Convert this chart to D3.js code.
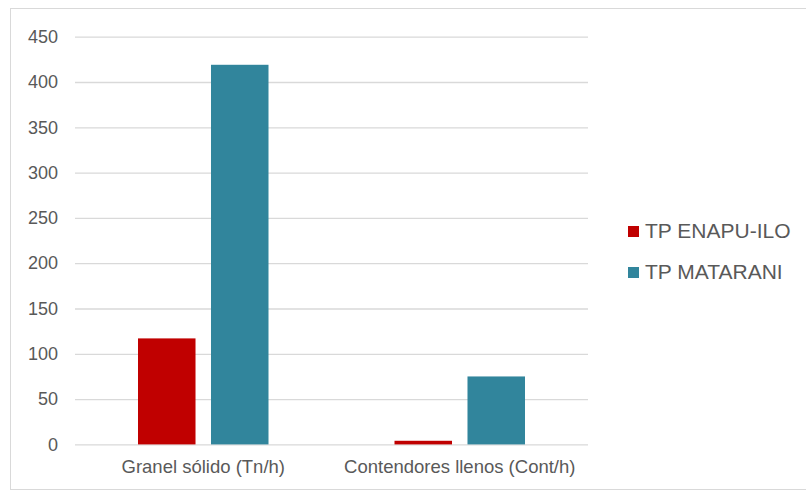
<!DOCTYPE html>
<html><head><meta charset="utf-8">
<script src="https://cdn.jsdelivr.net/npm/d3@7"></script>
<style>body{margin:0;background:#fff}svg{display:block}text{font-family:"Liberation Sans",Arial,sans-serif;fill:#595959}</style>
</head><body><svg id="c" width="806" height="491"></svg>
<script>
const categories = ["Granel sólido (Tn/h)", "Contendores llenos (Cont/h)"];
const seriesNames = ["TP ENAPU-ILO", "TP MATARANI"];
const enapuValues = [117, 4];
const mataraniValues = [419, 75];
const yTicks = [0, 50, 100, 150, 200, 250, 300, 350, 400, 450];
const colors = ["#C00000", "#31859C"];

(function () {
const svg = d3.select("#c");
svg.append("rect").attr("x", 10.5).attr("y", 8.5).attr("width", 810).attr("height", 481)
  .attr("fill", "none").attr("stroke", "#d9d9d9");

const pLeft = 75, pRight = 588, pTop = 36.7, pBottom = 444.4;
const y = d3.scaleLinear().domain([0, 450]).range([pBottom, pTop]);
const x0 = d3.scaleBand().domain(categories).range([pLeft, pRight]);
const bw = x0.bandwidth();
const groupW = 130.5;
const x1 = d3.scaleBand().domain(seriesNames).range([(bw - groupW) / 2, (bw + groupW) / 2]).paddingInner(0.212);

const yAxis = d3.axisLeft(y).tickValues(yTicks).tickSize(-(pRight - pLeft)).tickPadding(17);
const gy = svg.append("g").attr("transform", `translate(${pLeft},0)`).call(yAxis);
gy.select(".domain").remove();
gy.attr("font-family", null);
gy.selectAll(".tick line").attr("stroke", "#d9d9d9").attr("stroke-width", 1.3);
gy.selectAll(".tick text").style("font-size", "18px").attr("fill", "#595959");

const data = categories.map((c, i) => ({c, vals: [enapuValues[i], mataraniValues[i]]}));
const g = svg.append("g").selectAll("g").data(data).join("g")
  .attr("transform", d => `translate(${x0(d.c)},0)`);
g.selectAll("rect").data(d => d.vals.map((v, j) => ({s: seriesNames[j], v, j})))
  .join("rect")
  .attr("x", d => x1(d.s)).attr("width", x1.bandwidth())
  .attr("y", d => y(d.v)).attr("height", d => y(0) - y(d.v))
  .attr("fill", d => colors[d.j]);

const xAxis = d3.axisBottom(x0).tickSize(0).tickPadding(15);
const gx = svg.append("g").attr("transform", `translate(0,${pBottom})`).call(xAxis);
gx.select(".domain").remove();
gx.attr("font-family", null);
gx.selectAll(".tick text").style("font-size", "18.5px").attr("fill", "#595959");

const lg = svg.append("g").selectAll("g").data(seriesNames).join("g")
  .attr("transform", (d, i) => `translate(628,${226 + i * 41})`);
lg.append("rect").attr("width", 11).attr("height", 11).attr("fill", (d, i) => colors[i]);
lg.append("text").attr("x", 17).attr("y", 11.5).style("font-size", "21px").text(d => d);
})();
</script></body></html>
